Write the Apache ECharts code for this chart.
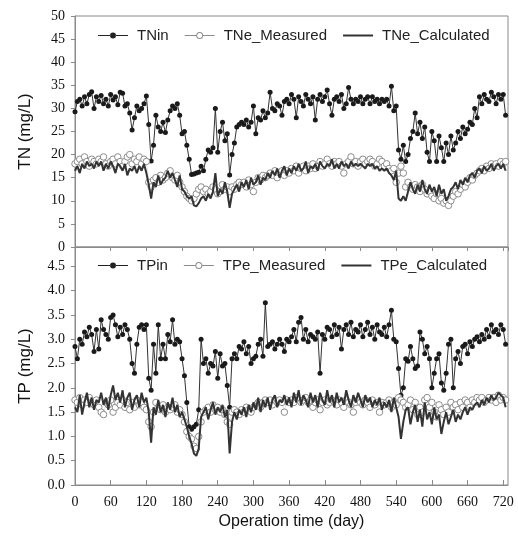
<!DOCTYPE html>
<html>
<head>
<meta charset="utf-8">
<script src="https://cdn.jsdelivr.net/npm/echarts@6/dist/echarts.min.js"></script>
<style>
html,body{margin:0;padding:0;background:#fff;}
#chart{width:518px;height:541px;}
</style>
</head>
<body>
<div id="chart"></div>
<script>
// Operation day of each sample
var days = [
0,4,8,12,16,20,24,28,32,36,
40,44,48,52,56,60,64,68,72,76,
80,84,88,92,96,100,104,108,112,116,
120,124,128,132,136,140,144,148,152,156,
160,164,168,172,176,180,184,188,192,196,
200,204,208,212,216,220,224,228,232,236,
240,244,248,252,256,260,264,268,272,276,
280,284,288,292,296,300,304,308,312,316,
320,324,328,332,336,340,344,348,352,356,
360,364,368,372,376,380,384,388,392,396,
400,404,408,412,416,420,424,428,432,436,
440,444,448,452,456,460,464,468,472,476,
480,484,488,492,496,500,504,508,512,516,
520,524,528,532,536,540,544,548,552,556,
560,564,568,572,576,580,584,588,592,596,
600,604,608,612,616,620,624,628,632,636,
640,644,648,652,656,660,664,668,672,676,
680,684,688,692,696,700,704,708,712,716,
720,724
];

var TNin = [
29.3,31.5,32.0,30.5,32.5,31.0,33.0,33.6,30.0,32.5,
31.5,32.8,31.0,32.0,30.5,33.0,31.8,32.5,30.8,33.5,
33.3,30.5,31.0,29.0,25.3,28.0,30.5,29.5,30.0,31.0,
32.7,26.5,18.6,22.0,28.5,26.0,25.0,27.0,24.8,27.5,
29.5,30.5,30.0,31.0,28.5,24.5,25.0,22.0,19.0,15.7,
15.8,16.0,16.2,17.5,16.5,19.0,21.0,20.5,21.5,30.0,
20.5,25.0,27.0,23.0,24.5,15.6,20.0,22.5,26.0,26.5,
27.0,26.5,27.5,26.0,27.0,30.5,24.5,28.0,27.5,29.5,
28.0,29.0,33.5,30.0,29.5,31.0,30.5,28.5,31.5,32.0,
31.0,33.0,32.0,28.0,32.5,31.5,30.5,33.0,32.0,31.0,
32.5,27.5,32.0,33.0,31.5,32.5,34.0,31.0,28.5,32.0,
32.5,31.5,33.0,30.0,31.0,34.5,32.0,31.0,32.0,31.5,
32.5,31.0,32.0,32.5,31.0,32.5,31.5,32.0,31.0,32.0,
31.5,32.0,30.5,34.8,29.5,30.5,21.0,19.0,22.0,18.5,
20.0,23.5,25.0,29.0,24.5,27.0,23.5,26.0,20.5,18.5,
25.0,23.0,18.5,24.0,21.5,18.5,22.5,20.0,24.0,21.0,
22.5,25.0,23.5,26.0,24.5,25.5,27.0,26.5,30.0,28.0,
32.5,31.0,33.0,32.0,31.5,33.5,32.5,31.0,33.0,32.0,
33.0,28.5
];

var TNe_Measured = [
18.0,18.5,19.0,18.0,19.5,18.5,17.5,19.0,18.5,18.0,
19.0,18.5,19.5,18.0,17.5,18.5,19.0,18.0,19.5,18.5,
17.5,18.5,19.5,20.0,18.0,19.0,18.5,19.5,18.0,19.0,
18.5,14.0,13.0,14.5,15.0,14.0,15.5,14.5,15.0,16.0,
16.5,15.0,14.5,15.5,14.0,13.0,12.0,11.0,10.5,10.0,
10.5,11.5,12.5,13.0,12.0,12.5,11.5,12.0,13.0,12.5,
11.5,12.0,13.5,12.5,13.0,12.0,13.0,12.5,13.5,14.0,
13.5,14.0,13.0,14.5,13.5,12.0,14.0,15.0,14.5,15.5,
15.0,15.5,16.0,15.5,16.5,15.0,16.0,16.5,15.5,16.5,
16.0,17.0,16.5,17.5,16.0,17.0,17.5,16.5,17.5,17.0,
18.0,17.0,17.5,18.5,17.5,18.0,19.0,18.0,17.5,18.5,
18.0,18.5,17.5,16.0,18.0,18.5,19.5,18.0,18.5,17.5,
18.5,19.0,18.0,18.5,19.0,18.5,17.5,18.0,19.0,18.5,
17.5,18.0,17.0,16.5,17.0,14.0,16.0,17.5,16.0,13.0,
14.0,13.0,12.5,13.5,13.0,12.0,13.5,12.5,11.5,12.0,
11.0,10.5,11.5,10.0,10.5,9.5,10.0,9.0,10.0,11.0,
12.0,11.5,12.5,13.5,13.0,14.0,15.0,14.5,15.5,16.0,
16.5,17.0,16.5,17.5,17.0,18.0,17.5,18.0,17.5,18.5,
18.0,18.5
];

var TNe_Calculated = [
16.5,17.5,16.0,18.0,17.0,18.5,17.5,18.0,17.0,18.5,
17.5,18.5,16.5,18.0,17.0,18.5,17.5,16.0,18.0,17.5,
16.5,18.0,15.5,17.0,16.5,17.5,16.0,17.5,16.5,18.0,
16.0,13.5,10.5,14.0,13.0,15.5,13.5,14.5,15.0,16.5,
15.0,16.0,14.5,13.0,15.5,12.5,12.0,11.0,10.5,11.0,
9.0,8.8,9.5,10.5,11.0,10.0,11.5,10.5,12.0,16.0,
11.0,12.5,11.5,14.0,12.0,8.5,11.5,12.5,13.5,12.0,
14.0,13.0,14.5,12.5,15.0,13.5,14.0,15.5,13.5,15.0,
14.5,16.0,15.0,16.5,15.5,17.0,15.0,16.5,17.5,15.5,
17.0,16.0,17.5,16.5,18.0,16.5,17.0,18.5,16.0,17.5,
17.0,18.0,16.5,18.5,17.5,17.0,18.0,17.5,19.0,17.0,
18.0,17.0,18.5,17.5,18.0,17.0,18.5,17.5,18.0,17.5,
18.0,17.5,17.0,18.0,17.5,18.0,17.0,17.5,16.5,17.0,
16.5,17.0,16.0,15.5,14.5,16.5,10.5,10.0,11.0,10.0,
12.0,14.0,12.5,11.5,13.5,12.0,14.5,12.5,11.5,13.5,
12.0,13.0,11.0,13.5,11.5,12.5,10.0,11.0,12.5,13.0,
14.0,12.5,14.5,13.5,15.0,14.0,15.5,16.0,15.0,16.5,
17.0,16.0,17.5,16.5,17.0,18.0,16.5,17.5,18.0,17.0,
18.0,16.5
];

var TPin = [
2.85,2.6,3.0,2.9,3.15,3.05,3.25,3.1,2.75,3.2,
2.8,3.4,3.2,3.1,3.0,3.45,3.5,3.3,3.05,3.25,
3.1,3.3,3.2,3.0,2.5,2.3,2.9,3.25,3.3,3.2,
3.3,2.2,1.95,2.9,2.3,3.3,2.6,2.9,2.6,3.1,
2.95,3.4,2.9,3.0,2.95,2.6,2.25,1.7,1.2,1.15,
1.2,1.25,1.55,3.0,2.5,2.6,2.3,2.5,2.45,2.75,
2.2,2.7,2.45,2.5,2.05,1.6,2.6,2.7,2.6,2.85,
2.8,2.95,2.7,2.85,2.5,2.6,2.65,2.9,3.0,2.65,
3.75,2.85,2.9,2.95,2.8,2.9,3.0,2.9,2.75,3.0,
2.95,3.05,3.2,2.95,3.35,3.45,3.0,3.2,2.95,3.1,
3.05,3.0,3.15,2.3,3.1,3.0,3.25,3.2,3.05,3.3,
3.1,3.25,2.8,3.2,3.3,3.1,3.35,3.05,3.2,3.15,
3.3,3.05,3.2,3.35,3.1,3.25,3.0,3.3,3.15,3.1,
3.25,3.05,3.3,3.6,3.0,2.95,2.4,1.85,2.0,2.6,
2.55,2.85,2.6,2.4,2.45,3.15,3.0,2.7,2.85,2.6,
2.0,2.3,2.6,2.7,2.1,1.95,2.3,2.9,3.0,2.0,
2.6,2.75,2.5,2.85,2.9,2.7,2.95,2.85,3.0,3.05,
2.95,3.1,3.0,3.2,3.05,3.3,3.15,3.2,3.1,3.3,
3.2,2.9
];

var TPe_Measured = [
1.75,1.7,1.8,1.65,1.75,1.7,1.8,1.7,1.65,1.75,
1.6,1.5,1.45,1.7,1.65,1.75,1.5,1.6,1.7,1.65,
1.75,1.6,1.7,1.55,1.7,1.6,1.75,1.65,1.7,1.6,
1.55,1.3,1.2,1.5,1.7,1.6,1.55,1.65,1.5,1.6,
1.55,1.6,1.65,1.5,1.55,1.45,1.3,1.1,1.0,0.95,
0.8,0.75,1.0,1.3,1.5,1.55,1.6,1.5,1.65,1.55,
1.6,1.5,1.55,1.45,1.3,1.25,1.5,1.55,1.5,1.45,
1.55,1.5,1.6,1.55,1.5,1.6,1.65,1.7,1.6,1.7,
1.75,1.7,1.75,1.65,1.75,1.7,1.75,1.7,1.5,1.75,
1.7,1.75,1.7,1.8,1.75,1.7,1.75,1.8,1.7,1.75,
1.6,1.7,1.75,1.55,1.7,1.75,1.65,1.7,1.75,1.7,
1.65,1.75,1.7,1.6,1.75,1.7,1.65,1.5,1.7,1.75,
1.7,1.65,1.75,1.7,1.6,1.75,1.65,1.7,1.5,1.7,
1.65,1.7,1.75,1.6,1.7,1.65,1.8,1.75,1.7,1.6,
1.65,1.75,1.55,1.7,1.45,1.6,1.5,1.75,1.8,1.6,
1.7,1.5,1.4,1.65,1.55,1.45,1.6,1.5,1.7,1.6,
1.65,1.55,1.7,1.6,1.75,1.7,1.6,1.75,1.7,1.8,
1.75,1.8,1.7,1.75,1.8,1.75,1.8,1.7,1.85,1.75,
1.8,1.75
];

var TPe_Calculated = [
1.6,1.5,1.85,1.45,1.7,1.9,1.6,1.8,1.55,1.75,
1.7,1.9,1.65,1.8,1.55,1.85,2.05,1.75,1.9,1.7,
1.95,1.6,1.8,1.9,1.55,1.75,1.85,1.6,1.9,1.7,
1.8,1.5,0.87,1.6,1.45,1.75,1.5,1.65,1.4,1.7,
1.55,1.8,1.5,1.65,1.4,1.5,1.35,1.2,1.0,0.85,
0.65,0.6,0.75,1.4,1.5,1.6,1.35,1.55,1.7,1.45,
1.6,1.5,1.65,1.4,1.55,0.65,1.3,1.5,1.35,1.55,
1.45,1.6,1.4,1.65,1.5,1.7,1.55,1.8,1.5,1.75,
1.6,1.8,1.55,1.75,1.85,1.6,1.75,1.7,1.85,1.65,
1.8,1.6,1.9,1.7,1.95,1.65,1.85,1.75,1.6,1.9,
1.7,1.85,1.6,1.9,1.75,1.65,1.95,1.7,1.85,1.6,
1.9,1.7,1.8,1.65,1.95,1.75,1.6,1.85,1.7,1.9,
1.75,1.6,1.85,1.7,1.8,1.6,1.75,1.65,1.8,1.55,
1.7,1.6,1.75,1.5,1.8,1.6,1.4,0.95,1.3,1.55,
1.6,1.25,1.5,1.65,1.3,1.55,1.2,1.7,1.35,1.5,
1.25,1.6,1.35,1.45,1.05,1.3,1.5,1.25,1.4,1.55,
1.3,1.45,1.35,1.5,1.6,1.45,1.6,1.55,1.65,1.7,
1.6,1.75,1.65,1.8,1.7,1.85,1.75,1.8,1.9,1.85,
1.8,1.6
];

var xTicks = {min: 0, max: 728, interval: 60};
var tnTicks = {min: 0, max: 50, interval: 5};
var tpTicks = {min: 0, max: 4.9, interval: 0.5};

function pairs(vals) {
  return days.map(function (d, i) { return [d, vals[i]]; });
}

var serifFont = 'Liberation Serif';
var sansFont = 'Liberation Sans';
var axisGray = '#8a8a8a';

function inflowSeries(name, vals, idx) {
  return {
    name: name, type: 'line', xAxisIndex: idx, yAxisIndex: idx,
    data: pairs(vals), symbol: 'circle', symbolSize: 5, showSymbol: true,
    lineStyle: {color: '#333', width: 1},
    itemStyle: {color: '#1a1a1a', borderColor: '#1a1a1a', borderWidth: 0},
    animation: false, z: 2
  };
}
function measuredSeries(name, vals, idx) {
  return {
    name: name, type: 'line', xAxisIndex: idx, yAxisIndex: idx,
    data: pairs(vals), symbol: 'circle', symbolSize: 6.5, showSymbol: true,
    lineStyle: {color: '#b5b5b5', width: 0.6, opacity: 0.6},
    itemStyle: {color: '#fff', borderColor: '#8c8c8c', borderWidth: 1},
    animation: false, z: 3
  };
}
function calcSeries(name, vals, idx) {
  return {
    name: name, type: 'line', xAxisIndex: idx, yAxisIndex: idx,
    data: pairs(vals), symbol: 'none', showSymbol: false,
    lineStyle: {color: '#333', width: 2},
    itemStyle: {color: '#333'},
    animation: false, z: 4
  };
}

// legend glyphs (30 wide)
var iconInflow = 'path://M0,5.5H12.2V6.5H0Z M17.8,5.5H30V6.5H17.8Z M12,6a3,3 0 1,0 6,0a3,3 0 1,0 -6,0Z';
var iconMeasured = 'path://M0,5.6H11.5V6.4H0Z M18.5,5.6H30V6.4H18.5Z M11.5,6a3.5,3.5 0 1,0 7,0a3.5,3.5 0 1,0 -7,0Z M12.5,6a2.5,2.5 0 1,1 5,0a2.5,2.5 0 1,1 -5,0Z';
var iconCalc = 'path://M0,5H30V7H0Z';

function legendData(names) {
  return [
    {name: names[0], icon: iconInflow, itemStyle: {color: '#222', borderWidth: 0}},
    {name: names[1], icon: iconMeasured, itemStyle: {color: '#8c8c8c', borderWidth: 0}},
    {name: names[2], icon: iconCalc, itemStyle: {color: '#333', borderWidth: 0}}
  ];
}

var legendText = {fontFamily: sansFont, fontSize: 15, color: '#222', padding: [0, 0, 0, 4]};

var option = {
  backgroundColor: '#fff',
  animation: false,
  grid: [
    {left: 75, top: 16, width: 433, height: 231, show: true, borderColor: axisGray, borderWidth: 1, backgroundColor: 'transparent'},
    {left: 75, top: 247, width: 433, height: 238, show: true, borderColor: axisGray, borderWidth: 1, backgroundColor: 'transparent'}
  ],
  legend: [
    {data: legendData(['TNin', 'TNe_Measured', 'TNe_Calculated']), left: 98, top: 28, padding: 0, itemWidth: 30, itemHeight: 12, itemGap: 16, textStyle: legendText, selectedMode: false, symbolKeepAspect: true},
    {data: legendData(['TPin', 'TPe_Measured', 'TPe_Calculated']), left: 98, top: 258, padding: 0, itemWidth: 30, itemHeight: 12, itemGap: 16, textStyle: legendText, selectedMode: false, symbolKeepAspect: true}
  ],
  xAxis: [
    {gridIndex: 0, type: 'value', min: xTicks.min, max: xTicks.max, interval: xTicks.interval,
     axisLine: {lineStyle: {color: axisGray}}, axisTick: {inside: false, length: 4, lineStyle: {color: axisGray}},
     axisLabel: {show: false}, splitLine: {show: false}},
    {gridIndex: 1, type: 'value', min: xTicks.min, max: xTicks.max, interval: xTicks.interval,
     name: 'Operation time (day)', nameLocation: 'middle', nameGap: 29,
     nameTextStyle: {fontFamily: sansFont, fontSize: 16, color: '#111'},
     axisLine: {lineStyle: {color: axisGray}}, axisTick: {inside: true, length: 5, lineStyle: {color: axisGray}},
     axisLabel: {fontFamily: serifFont, fontSize: 14, color: '#111', margin: 10, showMaxLabel: false},
     splitLine: {show: false}}
  ],
  yAxis: [
    {gridIndex: 0, type: 'value', min: tnTicks.min, max: tnTicks.max, interval: tnTicks.interval,
     name: 'TN (mg/L)', nameLocation: 'middle', nameGap: 41,
     nameTextStyle: {fontFamily: sansFont, fontSize: 17, color: '#111'},
     axisLine: {show: true, lineStyle: {color: axisGray}}, axisTick: {show: true, inside: false, length: 4, lineStyle: {color: axisGray}},
     axisLabel: {fontFamily: serifFont, fontSize: 14, color: '#111', margin: 10},
     splitLine: {show: false}},
    {gridIndex: 1, type: 'value', min: tpTicks.min, max: tpTicks.max, interval: tpTicks.interval,
     name: 'TP (mg/L)', nameLocation: 'middle', nameGap: 41,
     nameTextStyle: {fontFamily: sansFont, fontSize: 17, color: '#111'},
     axisLine: {show: true, lineStyle: {color: axisGray}}, axisTick: {show: true, inside: false, length: 4, lineStyle: {color: axisGray}},
     axisLabel: {fontFamily: serifFont, fontSize: 14, color: '#111', margin: 10, showMaxLabel: false,
       formatter: function (v) { return v.toFixed(1); }},
     splitLine: {show: false}}
  ],
  series: [
    inflowSeries('TNin', TNin, 0),
    measuredSeries('TNe_Measured', TNe_Measured, 0),
    calcSeries('TNe_Calculated', TNe_Calculated, 0),
    inflowSeries('TPin', TPin, 1),
    measuredSeries('TPe_Measured', TPe_Measured, 1),
    calcSeries('TPe_Calculated', TPe_Calculated, 1)
  ]
};

var chart = echarts.init(document.getElementById('chart'), null, {renderer: 'canvas'});
chart.setOption(option);
</script>
</body>
</html>
